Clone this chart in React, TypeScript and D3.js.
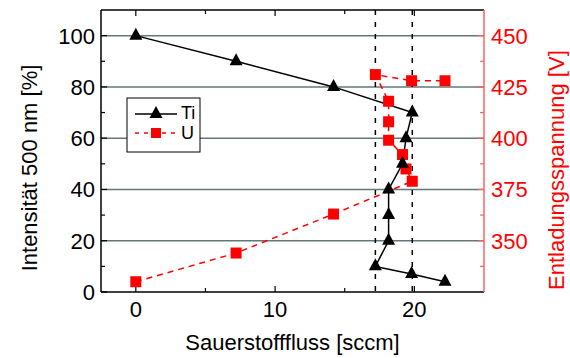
import React, { useEffect, useRef } from 'react';
import { select, scaleLinear, line } from 'd3';

// Sauerstofffluss [sccm] for each measurement, in the order they were taken
const flow = [0, 7.2, 14.2, 19.85, 19.4, 19.15, 18.15, 18.15, 18.15, 17.2, 19.8, 22.2];
// Intensity at 500 nm [%] (Ti, triangles)
const tiIntensity = [100, 90, 80, 70, 60, 50, 40, 30, 20, 10, 7, 4];
// Discharge voltage [V] (U, squares)
const uVoltage = [330, 344, 363, 379, 385, 392, 399, 408, 418, 431, 428, 428];

const xTicks = [0, 10, 20];
const xMinor = [5, 15];
const leftTicks = [0, 20, 40, 60, 80, 100];
const leftMinor = [10, 30, 50, 70, 90];
const rightTicks = [350, 375, 400, 425, 450];
const rightMinor = [337.5, 362.5, 387.5, 412.5, 437.5];
const dashedFlows = [17.2, 19.85];

const W = 570;
const H = 358;
const FONT = '"Liberation Sans", Arial, sans-serif';
const RED = '#ff0000';

export default function App() {
  const svgRef = useRef<SVGSVGElement>(null);

  useEffect(() => {
    const left = 101, right = 484, top = 10, bottom = 292;

    const x = scaleLinear().domain([-2.5, 25]).range([left, right]);
    const yL = scaleLinear().domain([0, 110]).range([bottom, top]);
    const yR = scaleLinear().domain([325, 462.5]).range([bottom, top]);

    const svg = select(svgRef.current);
    svg.selectAll('*').remove();
    svg.attr('font-family', FONT);

    // grid lines
    svg.append('g')
      .selectAll('line')
      .data(leftTicks.filter(d => d > 0))
      .join('line')
      .attr('x1', left).attr('x2', right)
      .attr('y1', d => yL(d)).attr('y2', d => yL(d))
      .attr('stroke', '#627878').attr('stroke-width', 1.5);

    // dashed verticals
    svg.append('g')
      .selectAll('line')
      .data(dashedFlows)
      .join('line')
      .attr('x1', d => x(d)).attr('x2', d => x(d))
      .attr('y1', top).attr('y2', bottom)
      .attr('stroke', '#000').attr('stroke-width', 1.5)
      .attr('stroke-dasharray', '5,7');

    // frame
    const frame = svg.append('g').attr('fill', 'none');
    frame.append('line').attr('x1', left).attr('x2', right).attr('y1', top).attr('y2', top).attr('stroke', '#000').attr('stroke-width', 1.5);
    frame.append('line').attr('x1', left).attr('x2', right).attr('y1', bottom).attr('y2', bottom).attr('stroke', '#000').attr('stroke-width', 1.5);
    frame.append('line').attr('x1', left).attr('x2', left).attr('y1', top).attr('y2', bottom).attr('stroke', '#000').attr('stroke-width', 1.5);
    frame.append('line').attr('x1', right).attr('x2', right).attr('y1', top).attr('y2', bottom).attr('stroke', '#ff6060').attr('stroke-width', 1.5);

    // x ticks (bottom and top, inward)
    const tk = svg.append('g').attr('stroke', '#000').attr('stroke-width', 1.2);
    [...xTicks.map(d => [d, 6]), ...xMinor.map(d => [d, 4])].forEach(([d, len]) => {
      tk.append('line').attr('x1', x(d)).attr('x2', x(d)).attr('y1', bottom).attr('y2', bottom - len);
      tk.append('line').attr('x1', x(d)).attr('x2', x(d)).attr('y1', top).attr('y2', top + len);
    });
    [...leftTicks.map(d => [d, 6]), ...leftMinor.map(d => [d, 4])].forEach(([d, len]) => {
      tk.append('line').attr('x1', left).attr('x2', left + len).attr('y1', yL(d)).attr('y2', yL(d));
    });
    const tkR = svg.append('g').attr('stroke', '#ff6060').attr('stroke-width', 1.2);
    [...rightTicks.map(d => [d, 6]), ...rightMinor.map(d => [d, 4])].forEach(([d, len]) => {
      tkR.append('line').attr('x1', right).attr('x2', right - len).attr('y1', yR(d)).attr('y2', yR(d));
    });

    // tick labels
    svg.append('g')
      .selectAll('text')
      .data(xTicks)
      .join('text')
      .attr('x', d => x(d)).attr('y', 317)
      .attr('text-anchor', 'middle').attr('font-size', 22)
      .text(d => d);
    svg.append('g')
      .selectAll('text')
      .data(leftTicks)
      .join('text')
      .attr('x', 95).attr('y', d => yL(d)).attr('dy', '0.36em')
      .attr('text-anchor', 'end').attr('font-size', 22)
      .text(d => d);
    svg.append('g')
      .selectAll('text')
      .data(rightTicks)
      .join('text')
      .attr('x', 491).attr('y', d => yR(d)).attr('dy', '0.36em')
      .attr('fill', RED).attr('font-size', 22)
      .text(d => d);

    // axis titles
    svg.append('text')
      .attr('x', (left + right) / 2).attr('y', 350)
      .attr('text-anchor', 'middle').attr('font-size', 22)
      .text('Sauerstofffluss [sccm]');
    svg.append('text')
      .attr('transform', `translate(37, 168) rotate(-90)`)
      .attr('text-anchor', 'middle').attr('font-size', 22)
      .text('Intensität 500 nm [%]');
    svg.append('text')
      .attr('transform', `translate(564, 290) rotate(-90)`)
      .attr('text-anchor', 'start').attr('font-size', 22)
      .attr('fill', RED)
      .text('Entladungsspannung [V]');

    // series
    const tiPts = flow.map((f, i) => [x(f), yL(tiIntensity[i])] as [number, number]);
    const uPts = flow.map((f, i) => [x(f), yR(uVoltage[i])] as [number, number]);

    svg.append('path')
      .attr('d', line()(uPts))
      .attr('fill', 'none').attr('stroke', RED).attr('stroke-width', 1.5)
      .attr('stroke-dasharray', '6,5');
    svg.append('path')
      .attr('d', line()(tiPts))
      .attr('fill', 'none').attr('stroke', '#000').attr('stroke-width', 1.5);

    const tri = (cx: number, cy: number) => `M${cx},${cy - 8}L${cx + 6.5},${cy + 4}L${cx - 6.5},${cy + 4}Z`;

    svg.append('g')
      .selectAll('rect')
      .data(uPts)
      .join('rect')
      .attr('x', d => d[0] - 5.5).attr('y', d => d[1] - 5.5)
      .attr('width', 11).attr('height', 11)
      .attr('fill', RED);
    svg.append('g')
      .selectAll('path')
      .data(tiPts)
      .join('path')
      .attr('d', d => tri(d[0], d[1]))
      .attr('fill', '#000');

    // legend
    const lg = svg.append('g');
    lg.append('rect').attr('x', 127).attr('y', 98).attr('width', 73).attr('height', 54)
      .attr('fill', '#fff').attr('stroke', '#000').attr('stroke-width', 1);
    lg.append('line').attr('x1', 135).attr('x2', 177).attr('y1', 114).attr('y2', 114)
      .attr('stroke', '#000').attr('stroke-width', 1.5);
    lg.append('path').attr('d', tri(156, 114)).attr('fill', '#000');
    lg.append('line').attr('x1', 135).attr('x2', 177).attr('y1', 133).attr('y2', 133)
      .attr('stroke', RED).attr('stroke-width', 1.5).attr('stroke-dasharray', '4,5');
    lg.append('rect').attr('x', 151).attr('y', 128).attr('width', 10).attr('height', 10).attr('fill', RED);
    lg.append('text').attr('x', 181).attr('y', 119).attr('font-size', 18).text('Ti');
    lg.append('text').attr('x', 181).attr('y', 139).attr('font-size', 18).text('U');
  }, []);

  return (
    <svg ref={svgRef} width={W} height={H}
      style={{ position: 'absolute', left: 0, top: 0, background: '#fff' }} />
  );
}
